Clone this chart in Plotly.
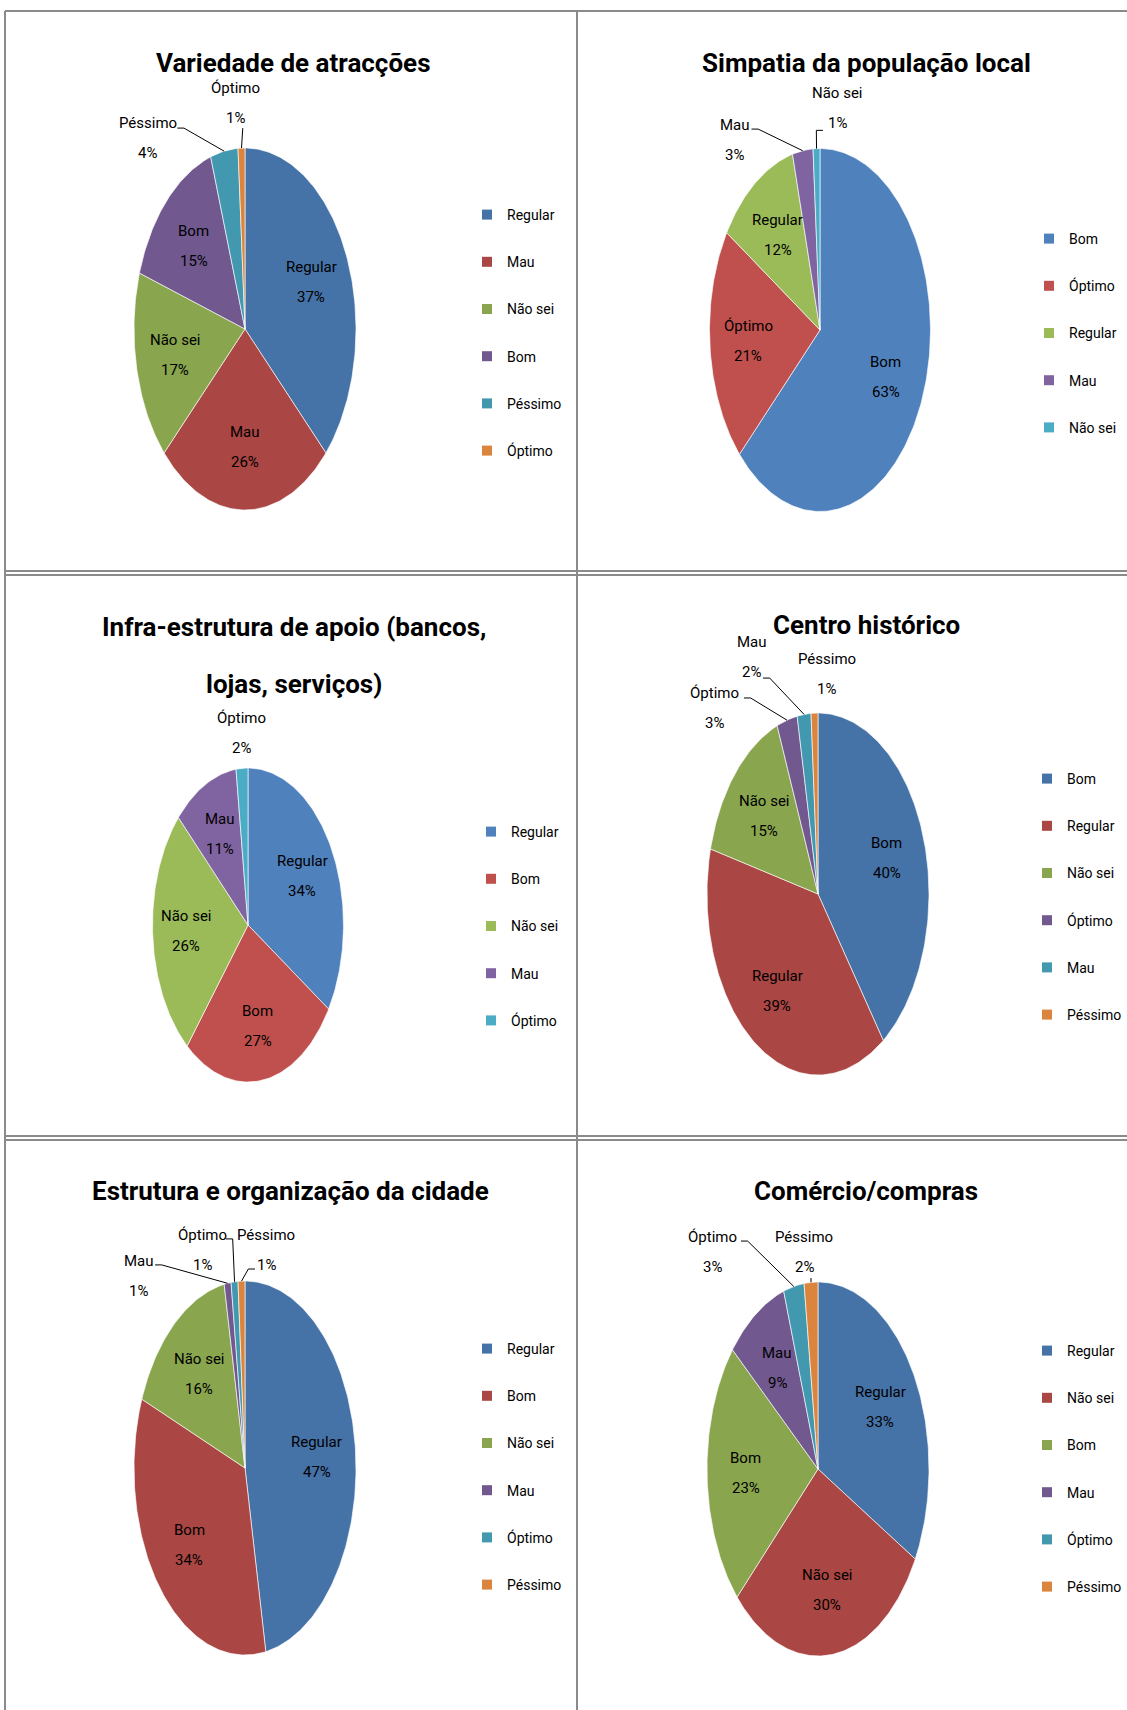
import math
import plotly.graph_objects as go

W, H = 1127, 1710
FONT = "Roboto, Liberation Sans, Arial, sans-serif"

# --- data -------------------------------------------------------------
atr_labels = ["Regular", "Mau", "Não sei", "Bom", "Péssimo", "Óptimo"]
atr_values = [37, 26, 17, 15, 4, 1]

sim_labels = ["Bom", "Óptimo", "Regular", "Mau", "Não sei"]
sim_values = [63, 21, 12, 3, 1]

inf_labels = ["Regular", "Bom", "Não sei", "Mau", "Óptimo"]
inf_values = [34, 27, 26, 11, 2]

cen_labels = ["Bom", "Regular", "Não sei", "Óptimo", "Mau", "Péssimo"]
cen_values = [40, 39, 15, 3, 2, 1]

est_labels = ["Regular", "Bom", "Não sei", "Mau", "Óptimo", "Péssimo"]
est_values = [47, 34, 16, 1, 1, 1]

com_labels = ["Regular", "Não sei", "Bom", "Mau", "Óptimo", "Péssimo"]
com_values = [33, 30, 23, 9, 3, 2]

# Excel 2007 palettes
DARK = ["#4572A7", "#AA4643", "#89A54E", "#71588F", "#4198AF", "#DB843D"]
LIGHT = ["#4F81BD", "#C0504D", "#9BBB59", "#8064A2", "#4BACC6", "#F79646"]

# layout of each panel (pixels): pie centre/radii, title, legend, outside labels
charts = [
    dict(title=["Variedade de atracções"], tpos=(293, [63]),
         labels=atr_labels, values=atr_values, pal=DARK,
         c=(245, 329), r=(111, 181), leg=(508, 215),
         outside={"Péssimo": (-0.874, 1.058, (-0.61, 1.11)),
                  "Óptimo": (-0.09, 1.25, (-0.02, 1.11))}),
    dict(title=["Simpatia da população local"], tpos=(866, [63]),
         labels=sim_labels, values=sim_values, pal=LIGHT,
         c=(820, 330), r=(110.5, 181.5), leg=(1070, 239),
         outside={"Mau": (-0.77, 1.047, (-0.62, 1.107)),
                  "Não sei": (0.154, 1.223, (0.027, 1.10))}),
    dict(title=["Infra-estrutura de apoio (bancos,", "lojas, serviços)"],
         tpos=(294, [627, 684]),
         labels=inf_labels, values=inf_values, pal=LIGHT,
         c=(248, 925), r=(95.5, 157), leg=(512, 832),
         outside={"Óptimo": (-0.063, 1.223, None)}),
    dict(title=["Centro histórico"], tpos=(866, [625]),
         labels=cen_labels, values=cen_values, pal=DARK,
         c=(818, 894), r=(111, 181), leg=(1068, 779),
         outside={"Óptimo": (-0.928, 1.03, (-0.667, 1.083)),
                  "Mau": (-0.595, 1.309, (-0.495, 1.193)),
                  "Péssimo": (0.081, 1.218, None)}),
    dict(title=["Estrutura e organização da cidade"], tpos=(290, [1191]),
         labels=est_labels, values=est_values, pal=DARK,
         c=(245, 1468), r=(111, 187), leg=(508, 1349),
         outside={"Mau": (-0.955, 1.029, (-0.81, 1.086)),
                  "Óptimo": (-0.387, 1.168, (-0.171, 1.225)),
                  "Péssimo": (0.19, 1.168, (0.09, 1.064))}),
    dict(title=["Comércio/compras"], tpos=(866, [1191]),
         labels=com_labels, values=com_values, pal=DARK,
         c=(818, 1469), r=(111, 187), leg=(1068, 1351),
         outside={"Óptimo": (-0.955, 1.158, (-0.694, 1.219)),
                  "Péssimo": (-0.126, 1.158, (-0.063, 1.021))}),
]

XR = (-1.3, 1.3)
YR = (-1.1, 1.4)
LABEL_SIZE = 15
LEGEND_SIZE = 14
TITLE_SIZE = 26

fig = go.Figure()
annotations = []
layout_extra = {}


def px_x(x):
    return x / W


def px_y(y):
    return 1 - y / H


for i, ch in enumerate(charts, start=1):
    xa = "x" if i == 1 else f"x{i}"
    ya = "y" if i == 1 else f"y{i}"
    leg = "legend" if i == 1 else f"legend{i}"
    cx, cy = ch["c"]
    rx, ry = ch["r"]

    layout_extra["xaxis" if i == 1 else f"xaxis{i}"] = dict(
        domain=[px_x(cx + XR[0] * rx), px_x(cx + XR[1] * rx)],
        range=list(XR), visible=False, fixedrange=True,
        anchor=ya)
    layout_extra["yaxis" if i == 1 else f"yaxis{i}"] = dict(
        domain=[px_y(cy - YR[0] * ry), px_y(cy - YR[1] * ry)],
        range=list(YR), visible=False, fixedrange=True,
        anchor=xa)

    total = sum(ch["values"])
    start = 0.0
    for j, (name, val) in enumerate(zip(ch["labels"], ch["values"])):
        frac = val / total
        a0, a1 = start * 2 * math.pi, (start + frac) * 2 * math.pi
        n = max(3, int(frac * 360))
        xs, ys = [0.0], [0.0]
        for k in range(n + 1):
            a = a0 + (a1 - a0) * k / n
            xs.append(math.sin(a))
            ys.append(math.cos(a))
        xs.append(0.0)
        ys.append(0.0)
        colour = ch["pal"][j % len(ch["pal"])]
        fig.add_trace(go.Scatter(
            x=xs, y=ys, xaxis=xa, yaxis=ya, mode="lines",
            fill="toself", fillcolor=colour,
            line=dict(color="rgba(255,255,255,0.8)", width=0.8),
            name=name, showlegend=False, hoverinfo="name",
        ))
        # legend swatch
        fig.add_trace(go.Scatter(
            x=[None], y=[None], xaxis=xa, yaxis=ya, mode="markers",
            marker=dict(symbol="square", size=10, color=colour),
            name=name, legend=leg, legendgroup=f"c{i}_{j}",
            showlegend=True,
        ))

        mid = (start + frac / 2) * 2 * math.pi
        ex, ey = math.sin(mid), math.cos(mid)
        pct = f"{round(frac * 100)}%"
        if name in ch["outside"]:
            lx, ly, st = ch["outside"][name]
            if st is not None:
                sx, sy = st
                lxs, lys = [sx], [sy]
                if abs(ex - sx) > 0.05:
                    lxs.append(sx + math.copysign(0.06, ex - sx))
                    lys.append(sy)
                lxs.append(ex)
                lys.append(ey)
                fig.add_trace(go.Scatter(
                    x=lxs, y=lys, xaxis=xa, yaxis=ya, mode="lines",
                    line=dict(color="black", width=1),
                    showlegend=False, hoverinfo="skip",
                ))
        else:
            lx, ly = 0.65 * ex, 0.65 * ey
        for txt, shift in ((name, 15), (pct, -15)):
            annotations.append(dict(
                x=lx, y=ly, xref=xa, yref=ya, text=txt, showarrow=False,
                yshift=shift,
                font=dict(family=FONT, size=LABEL_SIZE, color="black"),
            ))
        start += frac

    # title
    tx, tys = ch["tpos"]
    for line, ty in zip(ch["title"], tys):
        annotations.append(dict(
            x=px_x(tx), y=px_y(ty), xref="paper", yref="paper",
            text=f"<b>{line}</b>", showarrow=False,
            xanchor="center", yanchor="middle",
            font=dict(family=FONT, size=TITLE_SIZE, color="black"),
        ))

    lxp, lyp = ch["leg"]
    layout_extra[leg] = dict(
        x=px_x(lxp - 41), y=px_y(lyp - 16), xanchor="left", yanchor="top",
        bgcolor="rgba(0,0,0,0)", traceorder="grouped", tracegroupgap=26,
        font=dict(family=FONT, size=LEGEND_SIZE, color="black"),
        itemwidth=30,
    )

# panel frames
GREY = "#8a8a8a"
frames = [
    (5, 11, W, 11), (5, 11, 5, H), (577, 11, 577, H),
    (5, 571, W, 571), (5, 575, W, 575),
    (5, 1136, W, 1136), (5, 1140, W, 1140),
]
shapes = [
    dict(type="line", xref="paper", yref="paper",
         x0=px_x(x0), y0=px_y(y0), x1=px_x(x1), y1=px_y(y1),
         line=dict(color=GREY, width=2))
    for x0, y0, x1, y1 in frames
]

fig.update_layout(
    width=W, height=H,
    margin=dict(l=0, r=0, t=0, b=0, autoexpand=False),
    paper_bgcolor="white", plot_bgcolor="white",
    annotations=annotations, shapes=shapes,
    font=dict(family=FONT),
    **layout_extra,
)

fig.write_html("out.html", config={"displayModeBar": False},
               post_script="document.body.style.margin='0';")
